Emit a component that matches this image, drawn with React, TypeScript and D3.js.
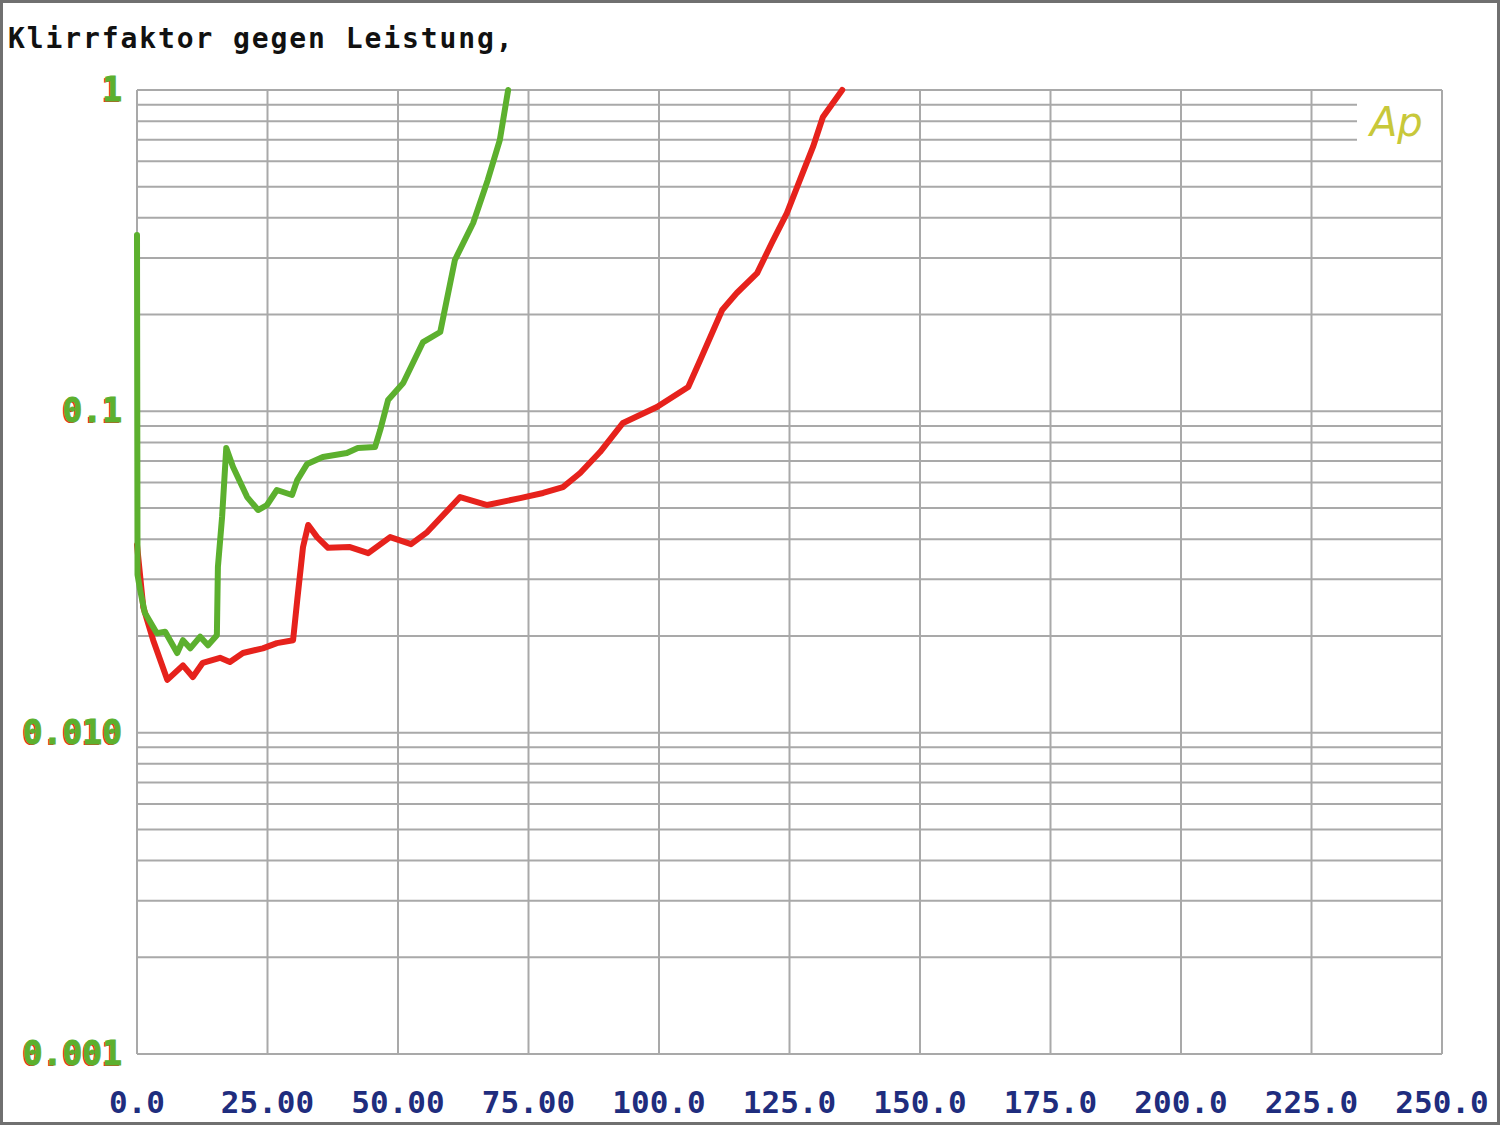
import { useEffect } from "react";
import * as d3 from "d3";

// power (W) vs. THD (%)
const greenPower = [0, 0.1, 0.6, 1.5, 3.8, 5.4, 7.7, 8.8, 10.2, 12.1, 13.6, 15.3, 15.5, 16.3, 17.1, 18.4, 21.1, 23.2, 24.9, 26.8, 29.7, 30.7, 32.6, 35.6, 40.2, 42.3, 45.6, 46.6, 48.1, 51.0, 54.8, 58.1, 60.9, 64.4, 67.2, 69.5, 71.1];
const greenThd = [0.354, 0.031, 0.0278, 0.0236, 0.0204, 0.0206, 0.0177, 0.0194, 0.0183, 0.0199, 0.0187, 0.0201, 0.0328, 0.0469, 0.0769, 0.0671, 0.0541, 0.0493, 0.0511, 0.0569, 0.0549, 0.0611, 0.0686, 0.0721, 0.0742, 0.0769, 0.0774, 0.0875, 0.1084, 0.1225, 0.1643, 0.1766, 0.2958, 0.3855, 0.525, 0.698, 1.0];

const redPower = [0, 1.2, 3.1, 5.8, 8.8, 10.7, 12.6, 15.9, 17.8, 20.3, 24.1, 26.8, 29.9, 30.7, 31.8, 32.8, 34.5, 36.6, 40.8, 44.3, 48.5, 52.5, 55.6, 61.9, 67.1, 73.4, 77.8, 81.6, 84.9, 88.7, 93.1, 99.6, 105.6, 107.9, 112.1, 114.9, 118.8, 121.6, 124.5, 127.0, 129.5, 131.4, 135.1];
const redThd = [0.0384, 0.0246, 0.0194, 0.0146, 0.0162, 0.0149, 0.0165, 0.0171, 0.0166, 0.0177, 0.0183, 0.019, 0.0194, 0.0259, 0.0378, 0.0443, 0.0406, 0.0376, 0.0378, 0.0362, 0.0406, 0.0386, 0.0421, 0.0541, 0.0511, 0.0537, 0.0557, 0.0581, 0.0643, 0.0747, 0.092, 0.1031, 0.119, 0.1445, 0.2067, 0.2335, 0.2693, 0.334, 0.414, 0.525, 0.665, 0.824, 1.0];

const xTicks = [0, 25, 50, 75, 100, 125, 150, 175, 200, 225, 250];
const xTickLabels = ["0.0", "25.00", "50.00", "75.00", "100.0", "125.0", "150.0", "175.0", "200.0", "225.0", "250.0"];
const yTicks = [1, 0.1, 0.01, 0.001];
const yTickLabels = ["1", "0.1", "0.010", "0.001"];

const W = 1500;
const H = 1125;
const GRID = "#a9a9a9";
const GREEN = "#5cb02e";
const RED = "#e6221c";

export default function App() {
  useEffect(() => {
    document.body.style.margin = "0";
  }, []);

  const x = d3.scaleLinear().domain([0, 250]).range([137, 1442]);
  const y = d3.scaleLog().domain([0.001, 1]).range([1054, 90]);

  // log grid: 1..9 in each decade
  const hLines: number[] = [];
  for (const base of [0.001, 0.01, 0.1]) {
    for (let m = 1; m < 10; m++) hLines.push(+(base * m).toPrecision(3));
  }
  hLines.push(1);

  const line = d3
    .line<[number, number]>()
    .x((d) => x(d[0]))
    .y((d) => y(d[1]));

  const green = line(greenPower.map((p, i) => [p, greenThd[i]]) as [number, number][]);
  const red = line(redPower.map((p, i) => [p, redThd[i]]) as [number, number][]);

  return (
    <svg width={W} height={H} style={{ display: "block", background: "#fff" }}>
      <rect x={1.5} y={1.5} width={W - 3} height={H - 3} fill="#fff" stroke="#707070" strokeWidth={3} />

      <text x={8} y={48} fontFamily="DejaVu Sans Mono" fontWeight="bold" fontSize={28} letterSpacing={1.9} fill="#111">
        Klirrfaktor gegen Leistung,
      </text>

      {/* horizontal grid */}
      {hLines.map((v) => {
        const short = v >= 0.7 && v < 1;
        return (
          <line key={"h" + v} x1={x(0)} x2={short ? 1357 : x(250)} y1={y(v)} y2={y(v)} stroke={GRID} strokeWidth={2} />
        );
      })}
      {/* vertical grid */}
      {xTicks.map((t) => (
        <line key={"v" + t} x1={x(t)} x2={x(t)} y1={y(1)} y2={y(0.001)} stroke={GRID} strokeWidth={2} />
      ))}

      <text x={1370} y={136} fontFamily="DejaVu Sans" fontWeight={200} fontStyle="italic" fontSize={40} fill="#c8c83a">
        Ap
      </text>

      <path d={red ?? ""} fill="none" stroke={RED} strokeWidth={6} strokeLinejoin="round" strokeLinecap="round" />
      <path d={green ?? ""} fill="none" stroke={GREEN} strokeWidth={6} strokeLinejoin="round" strokeLinecap="round" />

      {/* y tick labels, red underneath green */}
      {yTicks.map((t, i) => (
        <g key={"yl" + t} fontFamily="DejaVu Sans Mono" fontWeight="bold" fontSize={33} textAnchor="end">
          <text x={120.5} y={y(t) + 12} fill={RED}>
            {yTickLabels[i]}
          </text>
          <text x={122} y={y(t) + 11} fill={GREEN} stroke={GREEN} strokeWidth={1}>
            {yTickLabels[i]}
          </text>
        </g>
      ))}

      {/* x tick labels */}
      {xTicks.map((t, i) => (
        <text
          key={"xl" + t}
          x={x(t)}
          y={1113}
          textAnchor="middle"
          fontFamily="DejaVu Sans Mono"
          fontWeight="bold"
          fontSize={31}
          fill="#1f2d7e"
        >
          {xTickLabels[i]}
        </text>
      ))}
    </svg>
  );
}
